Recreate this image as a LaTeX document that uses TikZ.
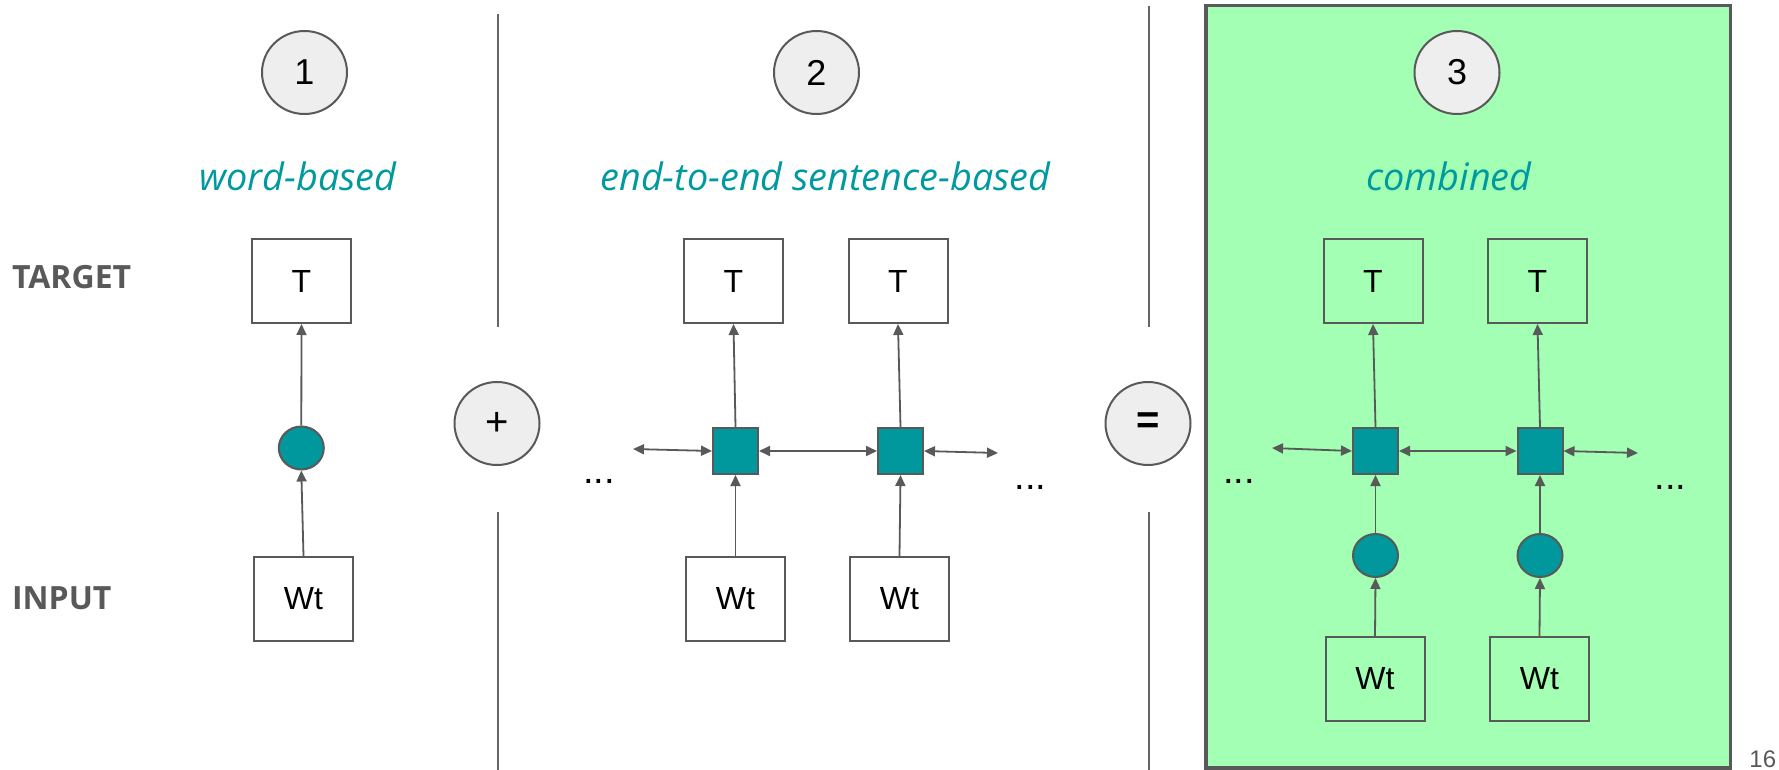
\documentclass[tikz,border=0pt]{standalone}
\usepackage{fontspec}
\setmainfont{Liberation Sans}
\newfontfamily\osans{Open Sans}
\usetikzlibrary{shapes.geometric,arrows.meta}
\definecolor{tealfill}{RGB}{0,151,157}
\definecolor{tealtext}{RGB}{0,153,160}
\definecolor{greenfill}{RGB}{162,255,180}
\definecolor{circfill}{RGB}{238,238,238}
\definecolor{strokegray}{RGB}{89,89,89}
\definecolor{labelgray}{RGB}{89,89,89}
\definecolor{sepgray}{RGB}{102,102,102}
\begin{document}
\begin{tikzpicture}[x=0.5pt,y=-0.5pt,
  box/.style={rectangle, draw=strokegray, line width=1pt, minimum width=49.5pt, minimum height=42pt, inner sep=0pt, font=\fontsize{16}{19}\selectfont},
  cell/.style={rectangle, draw=strokegray, fill=tealfill, line width=1pt, minimum width=22.5pt, minimum height=23pt, inner sep=0pt},
  emb/.style={ellipse, draw=strokegray, fill=tealfill, line width=1pt, minimum width=22.5pt, minimum height=21.5pt, inner sep=0pt},
  numcirc/.style={ellipse, draw=strokegray, fill=circfill, line width=1pt, minimum width=42.5pt, minimum height=41.5pt, inner sep=0pt, font=\fontsize{18}{21}\selectfont},
  title/.style={anchor=base, text=tealtext, font=\osans\itshape\fontsize{18.9}{22}\selectfont},
  rowlabel/.style={anchor=base west, text=labelgray, font=\osans\bfseries\fontsize{16}{19}\selectfont},
  dots/.style={anchor=base, font=\fontsize{19}{22}\selectfont},
  sep/.style={draw=sepgray, line width=1pt},
  arr/.style={draw=strokegray, line width=0.9pt, -{Triangle[length=5.5pt,width=5pt]}},
  darr/.style={draw=strokegray, line width=0.9pt, {Triangle[length=5.5pt,width=5pt]}-{Triangle[length=5.5pt,width=5pt]}}
]
\useasboundingbox (0,0) rectangle (1779,770);

% green panel
\draw[fill=greenfill, draw=strokegray, line width=1.7pt] (1206,5.5) rectangle (1730.5,768);

% separators
\coordinate (s1a) at (498,14);
\coordinate (s1b) at (498,327);
\coordinate (s1c) at (498,512);
\coordinate (s1d) at (498,775);
\coordinate (s2a) at (1149,6);
\coordinate (s2b) at (1149,327);
\coordinate (s2c) at (1149,512);
\coordinate (s2d) at (1149,775);
\draw[sep] (s1a) -- (s1b);
\draw[sep] (s1c) -- (s1d);
\draw[sep] (s2a) -- (s2b);
\draw[sep] (s2c) -- (s2d);

% row labels
\node[rowlabel] (target) at (5,289) {TARGET};
\node[rowlabel] (input) at (5,609) {INPUT};

% number circles and operators
\node[numcirc] (n1) at (304.5,72.5) {1};
\node[numcirc] (n2) at (816.5,72.5) {2};
\node[numcirc] (n3) at (1457,72.5) {3};
\node[numcirc, font=\fontsize{20}{23}\selectfont] (plus) at (497,423.5) {+};
\node[numcirc, font=\bfseries\fontsize{20}{23}\selectfont] (eq) at (1148,423.5) {=};

% titles
\node[title] (t1) at (298,191) {word-based};
\node[title] (t2) at (825.5,191) {end-to-end sentence-based};
\node[title] (t3) at (1449,191) {combined};

% panel 1
\node[box] (p1T) at (301.5,281) {T};
\node[emb] (p1e) at (301.3,448) {};
\node[box] (p1W) at (303.5,599) {Wt};
\draw[arr] (p1e.north) -- (p1T.south);
\draw[arr] (p1W.north) -- (p1e.south);

% panel 2
\node[box] (p2TA) at (733.5,281) {T};
\node[box] (p2TB) at (898,281) {T};
\node[cell] (p2cA) at (735.5,451) {};
\node[cell] (p2cB) at (900.5,451) {};
\node[box] (p2WA) at (735.5,599) {Wt};
\node[box] (p2WB) at (899.5,599) {Wt};
\coordinate (p2L) at (633,449);
\coordinate (p2R) at (998,453);
\draw[arr] (p2cA.north) -- (p2TA.south);
\draw[arr] (p2cB.north) -- (p2TB.south);
\draw[arr] (p2WA.north) -- (p2cA.south);
\draw[arr] (p2WB.north) -- (p2cB.south);
\draw[darr] (p2L) -- (p2cA.west);
\draw[darr] (p2cA.east) -- (p2cB.west);
\draw[darr] (p2cB.east) -- (p2R);
\node[dots] (p2dl) at (599,483) {...};
\node[dots] (p2dr) at (1030.5,489) {...};

% panel 3
\node[box] (p3TA) at (1373,281) {T};
\node[box] (p3TB) at (1537.5,281) {T};
\node[cell] (p3cA) at (1375.5,451) {};
\node[cell] (p3cB) at (1540,451) {};
\node[emb] (p3eA) at (1375.5,555.5) {};
\node[emb] (p3eB) at (1540,555.5) {};
\node[box] (p3WA) at (1375,679) {Wt};
\node[box] (p3WB) at (1539.5,679) {Wt};
\coordinate (p3L) at (1272,448);
\coordinate (p3R) at (1638,453);
\draw[arr] (p3cA.north) -- (p3TA.south);
\draw[arr] (p3cB.north) -- (p3TB.south);
\draw[arr] (p3eA.north) -- (p3cA.south);
\draw[arr] (p3eB.north) -- (p3cB.south);
\draw[arr] (p3WA.north) -- (p3eA.south);
\draw[arr] (p3WB.north) -- (p3eB.south);
\draw[darr] (p3L) -- (p3cA.west);
\draw[darr] (p3cA.east) -- (p3cB.west);
\draw[darr] (p3cB.east) -- (p3R);
\node[dots] (p3dl) at (1239,483) {...};
\node[dots] (p3dr) at (1670.5,489) {...};

% page number
\node[anchor=base west, text=labelgray, font=\fontsize{12}{14}\selectfont, inner sep=0pt] (pg) at (1749,767) {16};
\end{tikzpicture}
\end{document}
